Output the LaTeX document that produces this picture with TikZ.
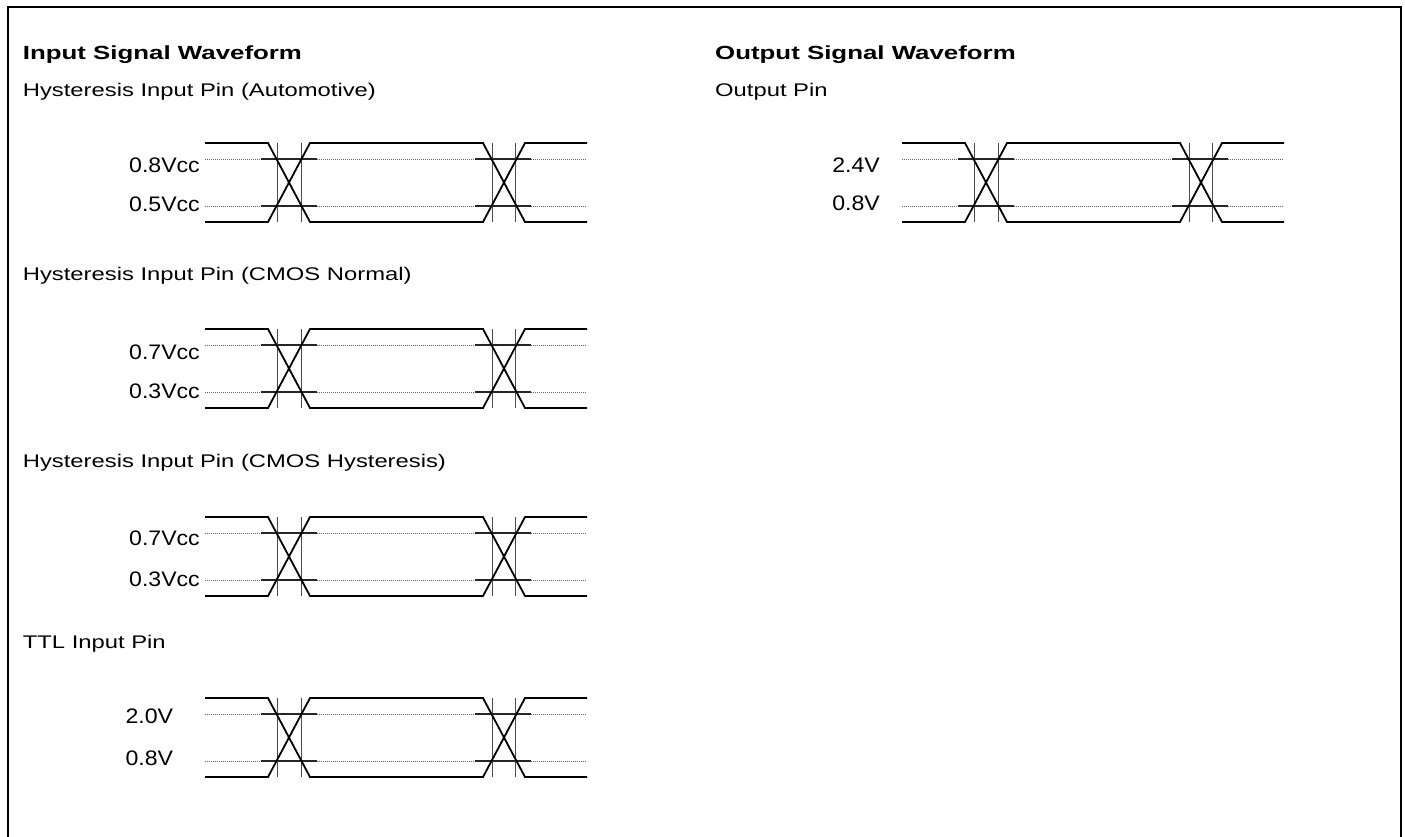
\documentclass[tikz,border=0pt]{standalone}
\usepackage{fontspec}
\setmainfont{Liberation Sans}
\newfontfamily\bodyfont[FakeStretch=1.3]{Liberation Sans}
\newfontfamily\titlefont[FakeStretch=1.36]{Liberation Sans}
\newfontfamily\lblfont[FakeStretch=1.1]{Liberation Sans}
\tikzset{
  sig/.style={line width=1.8pt, line join=miter},
  thr/.style={line width=1.4pt, black!85},
  vline/.style={line width=0.9pt, black!70},
  thrdot/.style={line width=0.7pt, black!60, dash pattern=on 1pt off 1pt},
  frame/.style={line width=2pt},
  ttl/.style={anchor=base west, inner sep=0pt, font=\titlefont\bfseries\fontsize{19}{22}\selectfont},
  body/.style={anchor=base west, inner sep=0pt, font=\bodyfont\fontsize{18.3}{21}\selectfont},
  lbl/.style={anchor=east, inner sep=0pt, font=\lblfont\fontsize{21}{24}\selectfont},
  wave/.pic={
    \draw[thrdot] (0,16) -- (382,16) (0,63) -- (382,63);
    \draw[thr] (56,16) -- (112,16) (56,63) -- (112,63) (270,16) -- (326,16) (270,63) -- (326,63);
    \draw[vline] (72,0) -- (72,79) (96,0) -- (96,79) (287,0) -- (287,79) (310,0) -- (310,79);
    \draw[sig] (0,0) -- (63,0) -- (105,79) -- (278,79) -- (320,0) -- (382,0);
    \draw[sig] (0,79) -- (63,79) -- (105,0) -- (278,0) -- (320,79) -- (382,79);
  }
}
\begin{document}
\begin{tikzpicture}[x=1pt, y=-1pt]
\useasboundingbox (0,0) rectangle (1405,837);
\draw[frame] (7.7,837) -- (7.7,7) -- (1400.7,7) -- (1400.7,837);

% Left column
\node[ttl] (tin) at (22.7,60) {Input Signal Waveform};
\node[body] (h1) at (22.7,97) {Hysteresis Input Pin (Automotive)};
\pic at (205,143) {wave};
\node[lbl] (a1) at (200,165) {0.8Vcc};
\node[lbl] (a2) at (200,204) {0.5Vcc};

\node[body] (h2) at (22.7,280) {Hysteresis Input Pin (CMOS Normal)};
\pic at (205,329) {wave};
\node[lbl] (b1) at (200,352.5) {0.7Vcc};
\node[lbl] (b2) at (200,391) {0.3Vcc};

\node[body] (h3) at (22.7,467) {Hysteresis Input Pin (CMOS Hysteresis)};
\pic at (205,517) {wave};
\node[lbl] (c1) at (200,538.5) {0.7Vcc};
\node[lbl] (c2) at (200,579) {0.3Vcc};

\node[body] (h4) at (22.7,648) {TTL Input Pin};
\pic at (205,698) {wave};
\node[lbl] (d1) at (173.3,716) {2.0V};
\node[lbl] (d2) at (173.3,758) {0.8V};

% Right column
\node[ttl] (tout) at (715,60) {Output Signal Waveform};
\node[body] (o1) at (715,97) {Output Pin};
\pic at (902,143) {wave};
\node[lbl] (e1) at (880,164.7) {2.4V};
\node[lbl] (e2) at (880,203) {0.8V};
\end{tikzpicture}
\end{document}
